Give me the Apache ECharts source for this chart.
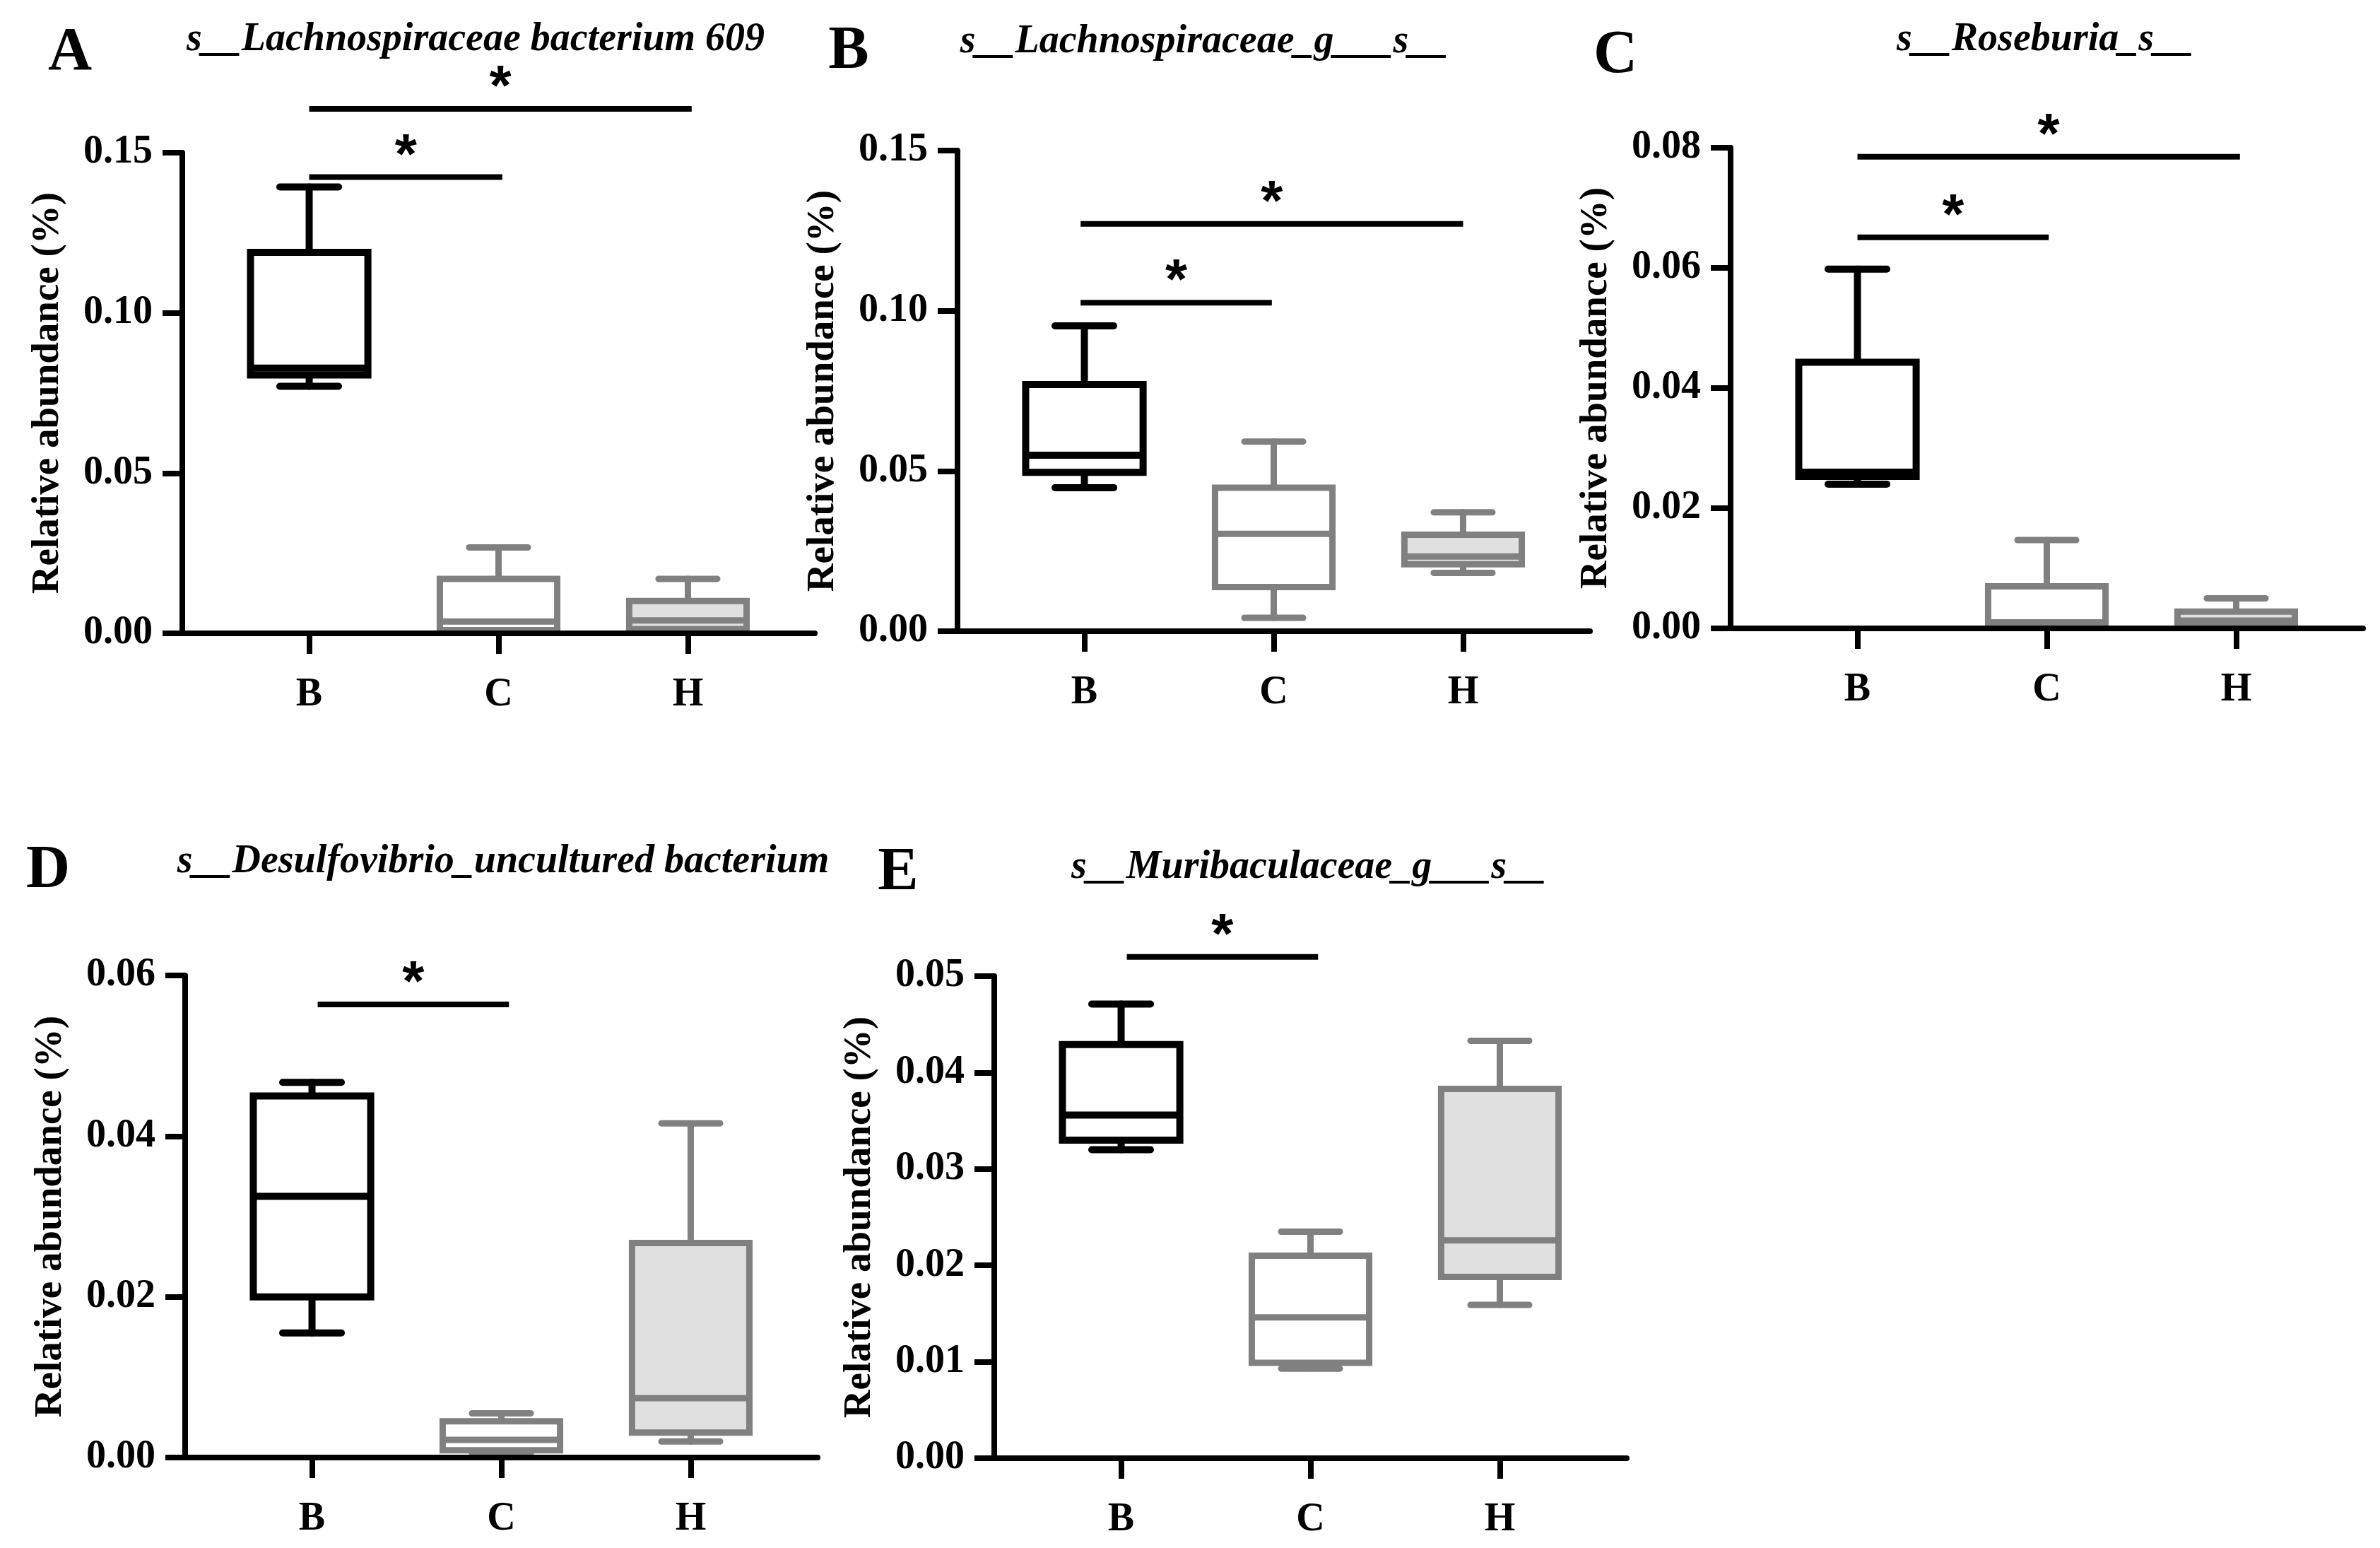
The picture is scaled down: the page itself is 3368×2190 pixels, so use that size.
<!DOCTYPE html>
<html lang="en">
<head>
  <meta charset="UTF-8">
  <title>Relative abundance boxplots</title>
  <style>
    * { margin: 0; padding: 0; }
    body { background: #ffffff; }
    #chart { width: 3368px; height: 2190px; }
  </style>
</head>
<body>
  <div id="chart"></div>

  <script src="https://cdn.jsdelivr.net/npm/echarts@6/dist/echarts.min.js"></script>
  <script type="text/javascript">
  var groups = ['B', 'C', 'H'];
  var groupPos = [1, 2, 3];

  var titleA = 's__Lachnospiraceae bacterium 609';
  var titleB = 's__Lachnospiraceae_g___s__';
  var titleC = 's__Roseburia_s__';
  var titleD = 's__Desulfovibrio_uncultured bacterium';
  var titleE = 's__Muribaculaceae_g___s__';

  // per group: [min, Q1, median, Q3, max]
  var boxA = [
    [0.0771, 0.0806, 0.0828, 0.1189, 0.1393],
    [0.0004, 0.0010, 0.0037, 0.0170, 0.0268],
    [0.0004, 0.0013, 0.0040, 0.0101, 0.0170]
  ];
  var boxB = [
    [0.0448, 0.0496, 0.0549, 0.0770, 0.0953],
    [0.0042, 0.0138, 0.0304, 0.0448, 0.0592],
    [0.0182, 0.0209, 0.0233, 0.0301, 0.0371]
  ];
  var boxC = [
    [0.0240, 0.0253, 0.0260, 0.0443, 0.0598],
    [0.0003, 0.0008, 0.0010, 0.0070, 0.0147],
    [0.0003, 0.0010, 0.0013, 0.0028, 0.0050]
  ];
  var boxD = [
    [0.0155, 0.0200, 0.0325, 0.0450, 0.0467],
    [0.0004, 0.0009, 0.0022, 0.0045, 0.0055],
    [0.0020, 0.0031, 0.0074, 0.0267, 0.0416]
  ];
  var boxE = [
    [0.0320, 0.0330, 0.0356, 0.0429, 0.0471],
    [0.0093, 0.0099, 0.0146, 0.0210, 0.0235],
    [0.0159, 0.0188, 0.0226, 0.0383, 0.0433]
  ];

  // significance bars: [from group, to group, height]
  var sigA = [[1.0, 2.02, 0.1424], [1.0, 3.02, 0.1637]];
  var sigB = [[0.98, 1.99, 0.1025], [0.98, 3.0, 0.1271]];
  var sigC = [[1.0, 2.01, 0.0651], [1.0, 3.02, 0.0785]];
  var sigD = [[1.03, 2.04, 0.0564]];
  var sigE = [[1.03, 2.04, 0.0520]];

  var yTopA = 0.15, yStepA = 0.05;
  var yTopB = 0.15, yStepB = 0.05;
  var yTopC = 0.08, yStepC = 0.02;
  var yTopD = 0.06, yStepD = 0.02;
  var yTopE = 0.05, yStepE = 0.01;

  var FONT = '"Liberation Serif", "Times New Roman", serif';
  var STAR_FONT = 'bold 80px "Liberation Sans", Arial, sans-serif';
  var strokeColors = ['#000000', '#808080', '#808080'];
  var fillColors = ['#ffffff', '#ffffff', '#e0e0e0'];
  var lineWidths = [10, 9, 9];

  function renderBox(params, api) {
    var j = params.dataIndex;
    var x = api.value(0);
    var pt = function (d) { return api.coord([x, api.value(d)]); };
    var lo = pt(1), q1 = pt(2), md = pt(3), q3 = pt(4), hi = pt(5);
    var boxW = api.size([0.62, 0])[0];
    var capW = api.size([0.31, 0])[0];
    var cx = lo[0];
    var ls = { stroke: strokeColors[j], lineWidth: lineWidths[j], lineCap: 'round' };
    return {
      type: 'group',
      children: [
        { type: 'line', shape: { x1: cx, y1: q3[1], x2: cx, y2: hi[1] }, style: ls },
        { type: 'line', shape: { x1: cx, y1: q1[1], x2: cx, y2: lo[1] }, style: ls },
        { type: 'line', shape: { x1: cx - capW / 2, y1: hi[1], x2: cx + capW / 2, y2: hi[1] }, style: ls },
        { type: 'line', shape: { x1: cx - capW / 2, y1: lo[1], x2: cx + capW / 2, y2: lo[1] }, style: ls },
        { type: 'rect', shape: { x: cx - boxW / 2, y: q3[1], width: boxW, height: q1[1] - q3[1] },
          style: { fill: fillColors[j], stroke: strokeColors[j], lineWidth: lineWidths[j] } },
        { type: 'line', shape: { x1: cx - boxW / 2, y1: md[1], x2: cx + boxW / 2, y2: md[1] },
          style: { stroke: strokeColors[j], lineWidth: lineWidths[j] } }
      ]
    };
  }

  function renderSig(params, api) {
    var a = api.coord([api.value(0), api.value(2)]);
    var b = api.coord([api.value(1), api.value(2)]);
    return {
      type: 'group',
      children: [
        { type: 'line', shape: { x1: a[0], y1: a[1], x2: b[0], y2: b[1] }, style: { stroke: '#000', lineWidth: 8 } },
        { type: 'text', x: (a[0] + b[0]) / 2, y: a[1] - 28,
          style: { text: '*', font: STAR_FONT, fill: '#000', align: 'center', verticalAlign: 'middle' } }
      ]
    };
  }

  function main () {
    var panels = [
      { letter: 'A', title: titleA, box: boxA, sig: sigA, yTop: yTopA, yStep: yStepA,
        left: 258, top: 216, bottom: 896, letterXY: [99, 76], titleXY: [673, 57] },
      { letter: 'B', title: titleB, box: boxB, sig: sigB, yTop: yTopB, yStep: yStepB,
        left: 1355, top: 213, bottom: 893, letterXY: [1201, 74], titleXY: [1704, 60] },
      { letter: 'C', title: titleC, box: boxC, sig: sigC, yTop: yTopC, yStep: yStepC,
        left: 2449, top: 209, bottom: 889, letterXY: [2286, 80], titleXY: [2894, 57] },
      { letter: 'D', title: titleD, box: boxD, sig: sigD, yTop: yTopD, yStep: yStepD,
        left: 262, top: 1380, bottom: 2062, letterXY: [68, 1233], titleXY: [712, 1220] },
      { letter: 'E', title: titleE, box: boxE, sig: sigE, yTop: yTopE, yStep: yStepE,
        left: 1407, top: 1381, bottom: 2063, letterXY: [1271, 1236], titleXY: [1852, 1228] }
    ];

    var grid = [], xAxis = [], yAxis = [], series = [], graphic = [];
    panels.forEach(function (p, i) {
      grid.push({ left: p.left, top: p.top, width: 895, height: p.bottom - p.top });
      xAxis.push({
        gridIndex: i, type: 'value', min: 0.33, max: 3.67, z: 5,
        axisLine: { show: true, onZero: false, lineStyle: { color: '#000', width: 8 } },
        axisTick: { show: true, customValues: groupPos, length: 29, lineStyle: { color: '#000', width: 8 } },
        axisLabel: {
          customValues: groupPos,
          formatter: function (v) { return groups[Math.round(v) - 1]; },
          fontFamily: FONT, fontWeight: 'bold', fontSize: 56, color: '#000', margin: 60
        },
        splitLine: { show: false }
      });
      yAxis.push({
        gridIndex: i, type: 'value', min: 0, max: p.yTop, interval: p.yStep,
        name: 'Relative abundance (%)', nameLocation: 'middle', nameGap: 163, nameRotate: 90,
        nameTextStyle: { fontFamily: FONT, fontWeight: 'bold', fontSize: 55, color: '#000' },
        axisLine: { show: true, lineStyle: { color: '#000', width: 8 } },
        axisTick: { show: true, length: 28, lineStyle: { color: '#000', width: 8 } },
        axisLabel: {
          formatter: function (v) { return v.toFixed(2); },
          fontFamily: FONT, fontWeight: 'bold', fontSize: 56, color: '#000', margin: 42
        },
        splitLine: { show: false }
      });
      series.push({
        type: 'custom', xAxisIndex: i, yAxisIndex: i, clip: false,
        renderItem: renderBox,
        encode: { x: 0, y: [1, 2, 3, 4, 5] },
        data: p.box.map(function (b, j) { return [groupPos[j]].concat(b); })
      });
      series.push({
        type: 'custom', xAxisIndex: i, yAxisIndex: i, clip: false,
        renderItem: renderSig,
        encode: { x: [0, 1], y: 2 },
        data: p.sig
      });
      graphic.push({
        type: 'text', x: p.letterXY[0], y: p.letterXY[1],
        style: { text: p.letter, font: 'bold 86px ' + FONT, fill: '#000', align: 'center', verticalAlign: 'middle' }
      });
      graphic.push({
        type: 'text', x: p.titleXY[0], y: p.titleXY[1],
        style: { text: p.title, font: 'italic bold 56px ' + FONT, fill: '#000', align: 'center', verticalAlign: 'middle' }
      });
    });

    var chart = echarts.init(document.getElementById('chart'));
    chart.setOption({
      backgroundColor: '#ffffff',
      animation: false,
      grid: grid,
      xAxis: xAxis,
      yAxis: yAxis,
      series: series,
      graphic: graphic
    });
  }

  window.addEventListener('load', main);
  </script>
</body>
</html>
